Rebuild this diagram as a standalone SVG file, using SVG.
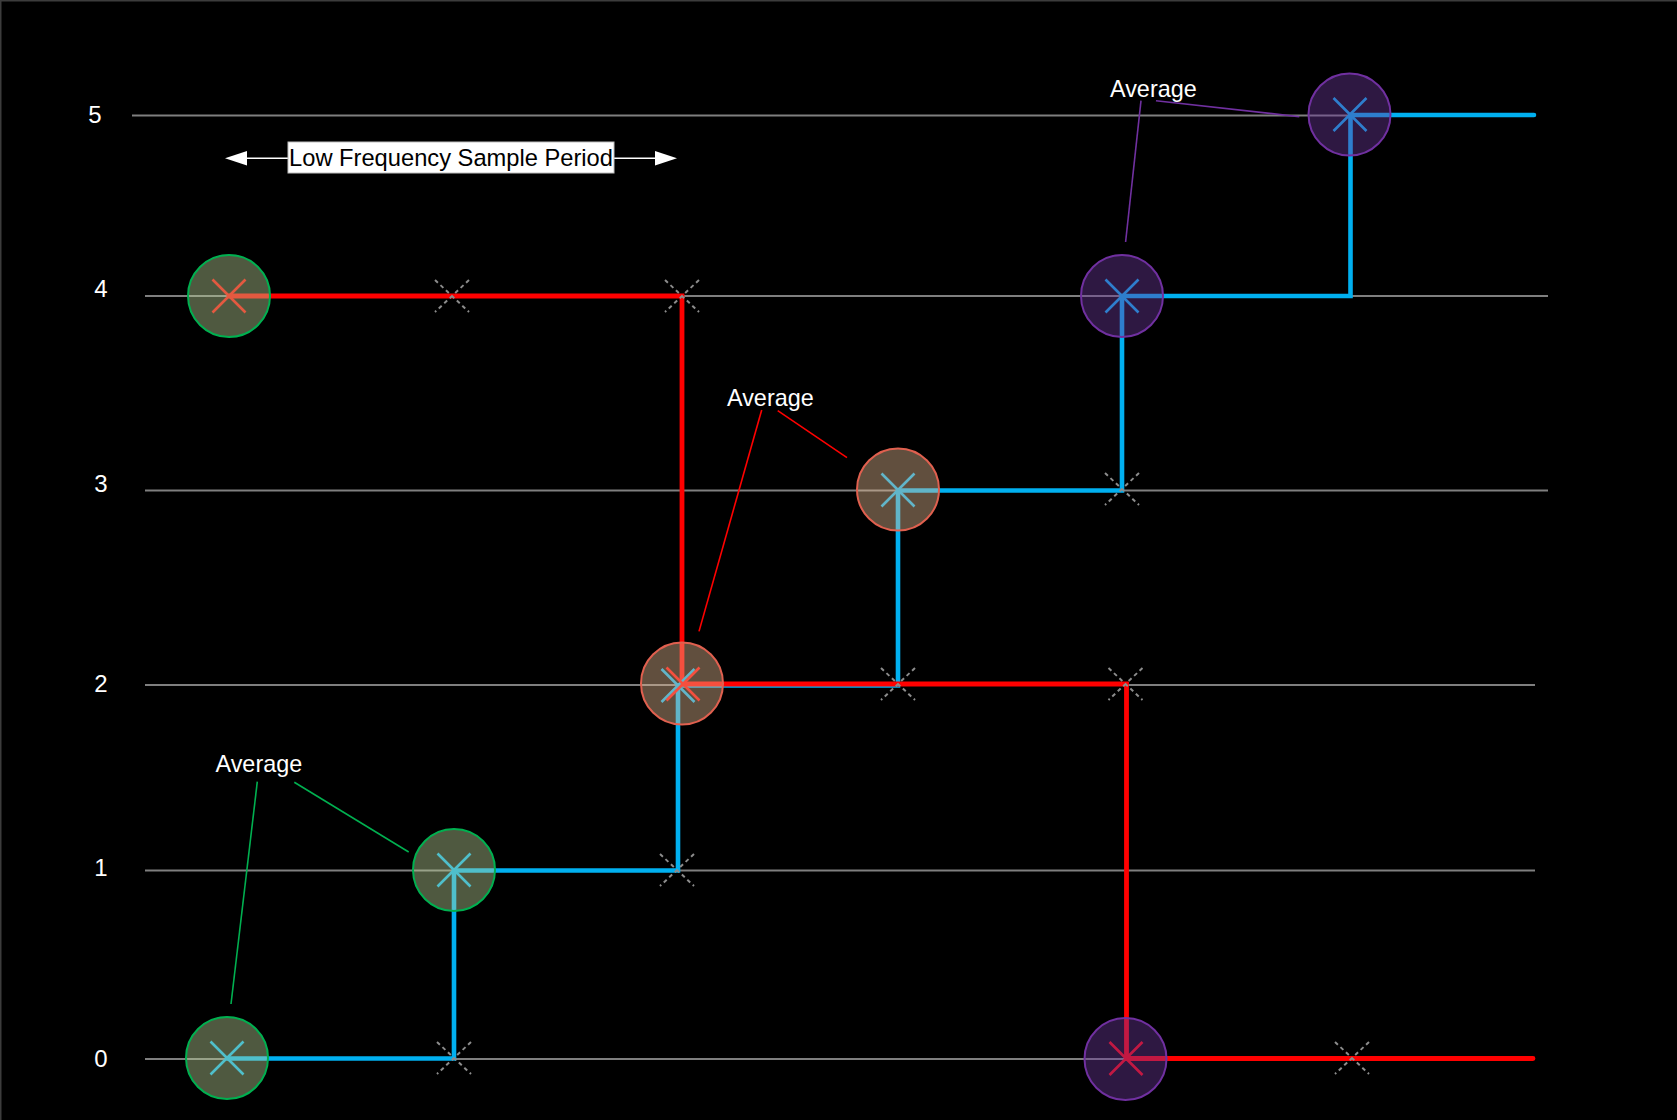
<svg xmlns="http://www.w3.org/2000/svg" width="1677" height="1120" viewBox="0 0 1677 1120">
  <defs>
    <style>
      .grid { stroke: #7f7f7f; stroke-width: 1.8; fill: none; }
      .lbl { font-family: "Liberation Sans", Arial, sans-serif; font-size: 24px; fill: #ffffff; }
      .avg { font-family: "Liberation Sans", Arial, sans-serif; font-size: 23.4px; fill: #ffffff; }
      .boxtxt { font-family: "Liberation Sans", Arial, sans-serif; font-size: 23.7px; fill: #000000; }
      .blue { stroke: #00b0f0; stroke-width: 4.6; fill: none; stroke-linejoin: miter; stroke-linecap: round; }
      .red { stroke: #ff0000; stroke-width: 4.8; fill: none; stroke-linejoin: miter; stroke-linecap: round; }
      .dx { stroke: #8c8c8c; stroke-width: 2; stroke-dasharray: 4 3.5; fill: none; }
      .bx { stroke: #00b0f0; stroke-width: 2.6; fill: none; }
      .rx { stroke: #ff0000; stroke-width: 2.6; fill: none; }
      .cg { fill: #bcd498; fill-opacity: 0.42; stroke: #00b050; stroke-width: 2; }
      .co { fill: #e7bc94; fill-opacity: 0.42; stroke: #e0604f; stroke-width: 2; }
      .cp { fill: #6e399d; fill-opacity: 0.42; stroke: #7030a0; stroke-width: 2; }
      .lg { stroke: #00b050; stroke-width: 1.6; fill: none; }
      .lr { stroke: #ff0000; stroke-width: 1.6; fill: none; }
      .lp { stroke: #7030a0; stroke-width: 1.6; fill: none; }
    </style>
    <path id="dmark" class="dx" d="M-17,-16 L17,16 M17,-16 L-17,16"/>
    <path id="xm" d="M-16.5,-16.5 L16.5,16.5 M16.5,-16.5 L-16.5,16.5"/>
  </defs>

  <rect x="0" y="0" width="1677" height="1120" fill="#000000"/>
  <path d="M0.75,1120 V0.75 H1677" stroke="#3c3c3c" stroke-width="1.5" fill="none"/>

  <g id="axis">
    <line class="grid" x1="132" y1="115.5" x2="1535" y2="115.5"/>
    <line class="grid" x1="145" y1="296" x2="1548" y2="296"/>
    <line class="grid" x1="145" y1="490.5" x2="1548" y2="490.5"/>
    <line class="grid" x1="145" y1="685" x2="1535" y2="685"/>
    <line class="grid" x1="145" y1="870.5" x2="1535" y2="870.5"/>
    <line class="grid" x1="145" y1="1059" x2="1535" y2="1059"/>
    <text class="lbl" x="95" y="123" text-anchor="middle">5</text>
    <text class="lbl" x="101" y="297" text-anchor="middle">4</text>
    <text class="lbl" x="101" y="492" text-anchor="middle">3</text>
    <text class="lbl" x="101" y="692" text-anchor="middle">2</text>
    <text class="lbl" x="101" y="876" text-anchor="middle">1</text>
    <text class="lbl" x="101" y="1067" text-anchor="middle">0</text>
  </g>

  <g id="period">
    <line x1="240" y1="158.3" x2="288" y2="158.3" stroke="#ffffff" stroke-width="1.6"/>
    <line x1="614" y1="158.3" x2="662" y2="158.3" stroke="#ffffff" stroke-width="1.6"/>
    <polygon points="225,158.3 247,151 247,165.6" fill="#ffffff"/>
    <polygon points="677,158.3 655,151 655,165.6" fill="#ffffff"/>
    <rect x="288" y="142" width="326" height="31" fill="#ffffff" stroke="#bfbfbf" stroke-width="1"/>
    <text class="boxtxt" x="451" y="166" text-anchor="middle">Low Frequency Sample Period</text>
  </g>

  <g id="connectors">
    <path id="blue-series" class="blue" d="M227,1058.5 H454 V870.5 H678 V685.5 H898 V490.5 H1122 V296 H1350.5 V115 H1534"/>
    <path id="red-series" class="red" d="M229,296 H682 V684 H1126.5 V1058.5 H1533"/>
  </g>

  <g id="samples">
    <use href="#dmark" x="452" y="296"/>
    <use href="#dmark" x="682" y="296"/>
    <use href="#dmark" x="454" y="1058"/>
    <use href="#dmark" x="677" y="870"/>
    <use href="#dmark" x="898" y="684"/>
    <use href="#dmark" x="1125.5" y="684"/>
    <use href="#dmark" x="1122" y="489"/>
    <use href="#dmark" x="1352" y="1058"/>
  </g>

  <g id="node-g4">
    <use href="#xm" class="rx" x="229" y="296"/>
    <circle class="cg" cx="229" cy="296" r="41"/>
  </g>
  <g id="node-g0">
    <use href="#xm" class="bx" x="227" y="1058"/>
    <circle class="cg" cx="227" cy="1058" r="41"/>
  </g>
  <g id="node-g1">
    <use href="#xm" class="bx" x="454" y="870"/>
    <circle class="cg" cx="454" cy="870" r="41"/>
  </g>
  <g id="node-o2">
    <use href="#xm" class="bx" x="678" y="685.5"/>
    <use href="#xm" class="rx" x="683" y="684"/>
    <circle class="co" cx="682" cy="683.5" r="41"/>
  </g>
  <g id="node-o3">
    <use href="#xm" class="bx" x="898" y="490"/>
    <circle class="co" cx="898" cy="489.5" r="41"/>
  </g>
  <g id="node-p4">
    <use href="#xm" class="bx" x="1122" y="296"/>
    <circle class="cp" cx="1122" cy="296" r="41"/>
  </g>
  <g id="node-p5">
    <use href="#xm" class="bx" x="1350" y="114.5"/>
    <circle class="cp" cx="1349.5" cy="114.5" r="41"/>
  </g>
  <g id="node-p0">
    <use href="#xm" class="rx" x="1126" y="1058.5"/>
    <circle class="cp" cx="1125.5" cy="1059" r="41"/>
  </g>

  <g id="callout-green">
    <text class="avg" x="215.5" y="772">Average</text>
    <line class="lg" x1="257.3" y1="781.7" x2="231" y2="1004"/>
    <line class="lg" x1="294.3" y1="782.3" x2="408.7" y2="852"/>
  </g>
  <g id="callout-red">
    <text class="avg" x="727" y="405.5">Average</text>
    <line class="lr" x1="761.7" y1="410" x2="699" y2="631.4"/>
    <line class="lr" x1="777.7" y1="410.7" x2="847" y2="457.7"/>
  </g>
  <g id="callout-purple">
    <text class="avg" x="1110" y="96.8">Average</text>
    <line class="lp" x1="1141" y1="100.7" x2="1125.6" y2="242"/>
    <line class="lp" x1="1156" y1="100.7" x2="1299.3" y2="116.7"/>
  </g>
</svg>
